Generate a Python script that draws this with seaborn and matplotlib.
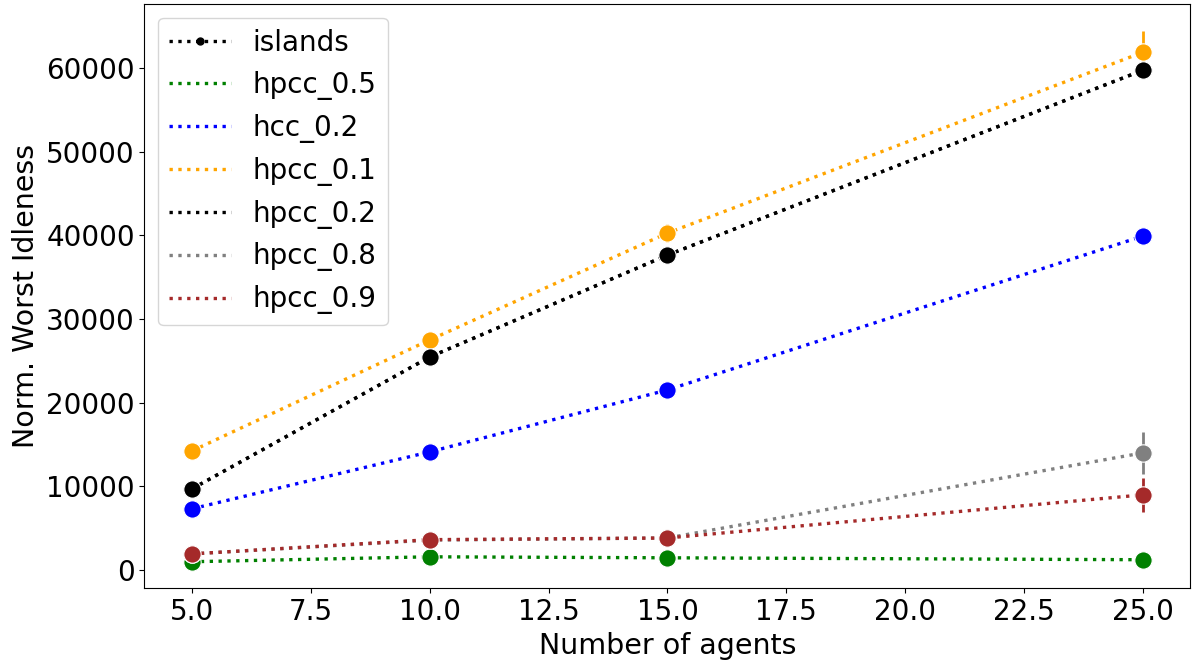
import pandas as pd
import seaborn as sns
from matplotlib import pyplot as plt
from matplotlib.lines import Line2D

agents = [5, 10, 15, 25]

islands = [9680, 25450, 37640, 59750]
hpcc_05 = [960, 1550, 1430, 1200]
hcc_02 = [7290, 14100, 21510, 39910]
hpcc_01 = [14220, 27490, 40270, 61900]
hpcc_02 = [9680, 25450, 37640, 59750]
hpcc_08 = [1900, 3550, 3800, 13980]
hpcc_09 = [1900, 3600, 3800, 8960]

# error bar half widths
islands_err = [0, 0, 0, 900]
hpcc_05_err = [0, 0, 0, 0]
hcc_02_err = [0, 0, 0, 0]
hpcc_01_err = [0, 0, 1100, 2600]
hpcc_02_err = [0, 0, 0, 900]
hpcc_08_err = [0, 0, 0, 2500]
hpcc_09_err = [0, 0, 0, 2000]

names = ["islands", "hpcc_0.5", "hcc_0.2", "hpcc_0.1", "hpcc_0.2", "hpcc_0.8", "hpcc_0.9"]
values = [islands, hpcc_05, hcc_02, hpcc_01, hpcc_02, hpcc_08, hpcc_09]
errs = [islands_err, hpcc_05_err, hcc_02_err, hpcc_01_err, hpcc_02_err, hpcc_08_err, hpcc_09_err]
colors = ["black", "green", "blue", "orange", "black", "grey", "brown"]

rows = []
for name, vals, ee in zip(names, values, errs):
    for a, v, e in zip(agents, vals, ee):
        rows.append({"agents": a, "idle": v, "err": e, "method": name})
df = pd.DataFrame(rows)

fig, ax = plt.subplots(figsize=(11.94, 6.61), dpi=100)
fig.subplots_adjust(left=0.121, right=0.997, top=0.994, bottom=0.110)

handles = []
for name, c in zip(names, colors):
    d = df[df["method"] == name]
    if name == "islands":
        sns.lineplot(data=d, x="agents", y="idle", color=c, linestyle=":", lw=2.4,
                     marker=".", markersize=8, ax=ax, legend=False)
        handles.append(Line2D([], [], color=c, linestyle=":", lw=2.4, marker=".", markersize=10))
    else:
        sns.lineplot(data=d, x="agents", y="idle", color=c, linestyle=":", lw=2.4,
                     marker="o", markersize=12.5, markeredgecolor="white",
                     markeredgewidth=0.8, ax=ax, legend=False)
        handles.append(Line2D([], [], color=c, linestyle=":", lw=2.4))
    ax.vlines(d["agents"], d["idle"] - d["err"], d["idle"] + d["err"], color=c, lw=2,
              zorder=1.5)

ax.set_xticks([5.0, 7.5, 10.0, 12.5, 15.0, 17.5, 20.0, 22.5, 25.0])
ax.set_xticklabels(["5.0", "7.5", "10.0", "12.5", "15.0", "17.5", "20.0", "22.5", "25.0"])
ax.set_yticks([0, 10000, 20000, 30000, 40000, 50000, 60000])
ax.tick_params(labelsize=20)
ax.set_xlabel("Number of agents", fontsize=20.5)
ax.set_ylabel("Norm. Worst Idleness", fontsize=20.5)
ax.legend(handles, names, loc="upper left", fontsize=20, handlelength=2.2)

plt.savefig("out.png", dpi=100)
